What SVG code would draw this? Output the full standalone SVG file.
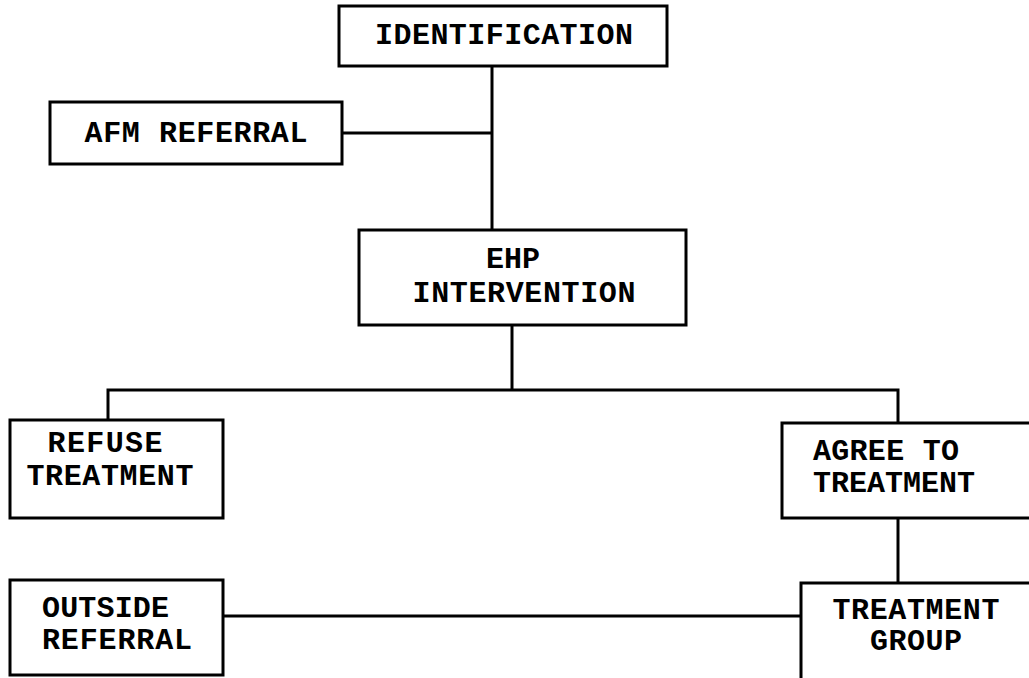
<svg xmlns="http://www.w3.org/2000/svg" width="1029" height="678" viewBox="0 0 1029 678">
<style>
.box{fill:#fff;stroke:#000;stroke-width:3}
.lbl{font-family:"Liberation Mono","Courier New",monospace;font-weight:bold;font-size:30px;fill:#000}
.c{text-anchor:middle}
.conn{fill:none;stroke:#000;stroke-width:3}
</style>
<rect width="1029" height="678" fill="#fff"/>
<g id="connectors" class="conn">
<line x1="492" y1="66" x2="492" y2="230"/>
<line x1="342" y1="133" x2="492" y2="133"/>
<line x1="512" y1="325" x2="512" y2="390"/>
<polyline points="108,420 108,390 898,390 898,423"/>
<line x1="898" y1="518" x2="898" y2="583"/>
<line x1="223" y1="616" x2="801" y2="616"/>
</g>
<g id="identification">
<rect class="box" x="339" y="6" width="328" height="60"/>
<text class="lbl c" x="504" y="44" textLength="258" lengthAdjust="spacing">IDENTIFICATION</text>
</g>
<g id="afm-referral">
<rect class="box" x="50" y="102" width="292" height="62"/>
<text class="lbl c" x="196" y="142" textLength="223" lengthAdjust="spacing">AFM REFERRAL</text>
</g>
<g id="ehp-intervention">
<rect class="box" x="359" y="230" width="327" height="95"/>
<text class="lbl c" x="513" y="268" textLength="54" lengthAdjust="spacing">EHP</text>
<text class="lbl c" x="524" y="302" textLength="223" lengthAdjust="spacing">INTERVENTION</text>
</g>
<g id="refuse-treatment">
<rect class="box" x="10" y="420" width="213" height="98"/>
<text class="lbl c" x="105" y="452" textLength="115" lengthAdjust="spacing">REFUSE</text>
<text class="lbl c" x="110" y="485" textLength="167" lengthAdjust="spacing">TREATMENT</text>
</g>
<g id="agree-to-treatment">
<rect class="box" x="782" y="423" width="260" height="95"/>
<text class="lbl" x="813" y="460" textLength="146" lengthAdjust="spacing">AGREE TO</text>
<text class="lbl" x="813" y="492" textLength="162" lengthAdjust="spacing">TREATMENT</text>
</g>
<g id="outside-referral">
<rect class="box" x="10" y="580" width="213" height="95"/>
<text class="lbl" x="42" y="617" textLength="127" lengthAdjust="spacing">OUTSIDE</text>
<text class="lbl" x="42" y="649" textLength="150" lengthAdjust="spacing">REFERRAL</text>
</g>
<g id="treatment-group">
<rect class="box" x="801" y="583" width="250" height="110"/>
<text class="lbl c" x="916" y="619" textLength="167" lengthAdjust="spacing">TREATMENT</text>
<text class="lbl c" x="916" y="650" textLength="92" lengthAdjust="spacing">GROUP</text>
</g>
</svg>
